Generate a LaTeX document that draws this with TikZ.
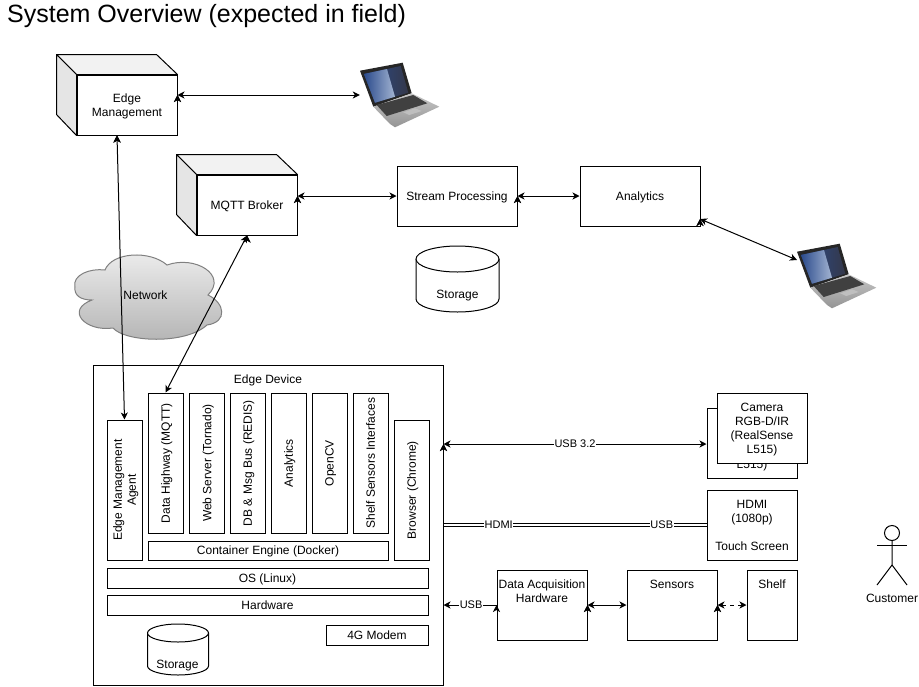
\documentclass[tikz,border=0pt]{standalone}
\usepackage{fontspec}
\setmainfont{Liberation Sans}
\usepackage{tikz}
\usetikzlibrary{arrows.meta}

\definecolor{screenlow}{HTML}{2B4B8C}
\definecolor{screenhigh}{HTML}{34384A}
\definecolor{screenglare}{HTML}{A3B4D2}

\tikzset{
    box/.style = {draw, fill = white, line width = 1pt, align = center, inner sep = 0pt, text depth = 0pt, font = \fontsize{12}{14}\selectfont},
    vbox/.style = {box, rotate = 90, minimum height = 35pt},
    toptext/.style = {label = {[anchor = north, align = center, inner sep = 5pt, yshift = -5pt, font = \fontsize{12}{14}\selectfont]north:#1}},
    plain/.style = {align = center, inner sep = 0pt, text depth = 0pt, font = \fontsize{12}{14}\selectfont},
    canline/.style = {draw, fill = white, line width = 1pt},
    faceside/.style = {draw, fill = black!10, line width = 1pt, line join = round},
    facetop/.style = {draw, fill = black!5, line width = 1pt, line join = round},
    link/.style = {line width = 1pt, {Stealth[length = 7pt, width = 7pt, inset = 2pt]}-{Stealth[length = 7pt, width = 7pt, inset = 2pt]}},
    tolink/.style = {line width = 1pt, -{Stealth[length = 7pt, width = 7pt, inset = 2pt]}},
    cable/.style = {draw, double, double distance = 2pt, line width = 1pt},
    tag/.style = {fill = white, inner sep = 0.5pt, font = \fontsize{11}{13}\selectfont},
    laptop/.pic = {
        % lid, base and keyboard, corner at top left of the lid
        \fill [black!85] (0, 8.7) -- (42.7, 0.7) -- (51.7, 31.3) -- (13.3, 44.7) -- cycle;
        \shade [left color = screenlow, right color = screenhigh] (4, 12) -- (40.7, 4) -- (48.3, 30.7) -- (15, 40.7) -- cycle;
        \shade [left color = screenlow, right color = screenglare] (4, 12) -- (27, 7) -- (35, 34.7) -- (15, 40.7) -- cycle;
        \shade [top color = black!22, bottom color = black!42] (13.3, 44.7) -- (51.7, 31.3) -- (79.3, 44.7) -- (35, 65.3) -- (30, 62) -- cycle;
        \fill [black!75] (16.7, 43) -- (53.3, 33) -- (67.3, 41.3) -- (26.7, 54) -- cycle;
        \fill [black!25] (43.3, 50.3) -- (55, 46.3) -- (61.7, 49) -- (49.3, 53) -- cycle;
    },
}

\begin{document}
\begin{tikzpicture}[x = 1pt, y = -1pt]
            \useasboundingbox (0, 0) rectangle (919, 686);
            \node (title) at (7, 16) [anchor = west, inner sep = 0pt, font = \fontsize{25}{29}\selectfont] {System Overview (expected in field)};

            % upper part
            \node (edgemgmt) at (127, 105) [box, minimum width = 100pt, minimum height = 60pt] {Edge\\Management};
            \draw [facetop] (edgemgmt.north west) -- ++(-20, -20) -- ++(100, 0) -- (edgemgmt.north east) -- cycle;
            \draw [faceside] (edgemgmt.north west) -- ++(-20, -20) -- ++(0, 60) -- (edgemgmt.south west) -- cycle;
            \node (mqtt) at (247, 205) [box, minimum width = 100pt, minimum height = 60pt] {MQTT Broker};
            \draw [facetop] (mqtt.north west) -- ++(-20, -20) -- ++(100, 0) -- (mqtt.north east) -- cycle;
            \draw [faceside] (mqtt.north west) -- ++(-20, -20) -- ++(0, 60) -- (mqtt.south west) -- cycle;
            \node (stream) at (457, 196) [box, minimum width = 120pt, minimum height = 60pt] {Stream Processing};
            \node (analytics) at (640, 196) [box, minimum width = 120pt, minimum height = 60pt] {Analytics};
            \draw [canline] (416, 259) arc [start angle = 180, end angle = 0, x radius = 41.5pt, y radius = 13pt] -- (499, 299) arc [start angle = 0, end angle = -180, x radius = 41.5pt, y radius = 13pt] -- cycle;
            \draw [canline] (416, 259) arc [start angle = 180, end angle = 360, x radius = 41.5pt, y radius = 13pt];
            \node (storage) at (457.5, 294) [plain] {Storage};
            \pic at (360, 62) {laptop};
            \node (laptopa) at (400, 95) [minimum width = 80pt, minimum height = 66pt] {};
            \pic at (797, 243) {laptop};
            \coordinate (laptopb) at (797, 260);
            \coordinate (analyticsport) at (700, 219);

            % network cloud
            \draw [line width = 1pt, draw = black!50, top color = black!7, bottom color = black!30]
                (75, 287) .. controls (72, 275) and (90, 268) .. (105, 270)
                .. controls (112, 252) and (150, 250) .. (167, 265)
                .. controls (195, 255) and (228, 275) .. (208, 295)
                .. controls (225, 303) and (228, 322) .. (207, 325)
                .. controls (185, 345) and (125, 342) .. (113, 328)
                .. controls (85, 332) and (65, 310) .. (92, 300)
                .. controls (80, 300) and (74, 295) .. (75, 287) -- cycle;
            \node (network) at (145.5, 295.5) [plain] {Network};

            % edge device
            \node (device) at (268, 525) [box, minimum width = 350pt, minimum height = 320pt, toptext = Edge Device] {};
            \node (agent) at (124.5, 490) [vbox, minimum width = 140pt] {Edge Management\\Agent};
            \node (highway) at (165.5, 463) [vbox, minimum width = 140pt] {Data Highway (MQTT)};
            \node (webserver) at (207, 463) [vbox, minimum width = 140pt] {Web Server (Tornado)};
            \node (dbbus) at (247.5, 463) [vbox, minimum width = 140pt] {DB \& Msg Bus (REDIS)};
            \node (devanalytics) at (288.5, 463) [vbox, minimum width = 140pt] {Analytics};
            \node (opencv) at (329.5, 463) [vbox, minimum width = 140pt] {OpenCV};
            \node (shelfif) at (370.5, 463) [vbox, minimum width = 140pt] {Shelf Sensors Interfaces};
            \node (browser) at (411.5, 490) [vbox, minimum width = 140pt] {Browser (Chrome)};
            \node (engine) at (268, 550.5) [box, minimum width = 240pt, minimum height = 19pt] {Container Engine (Docker)};
            \node (os) at (267.5, 578) [box, minimum width = 321pt, minimum height = 20pt] {OS (Linux)};
            \node (hardware) at (267.5, 605) [box, minimum width = 321pt, minimum height = 20pt] {Hardware};
            \node (modem) at (377, 635) [box, minimum width = 102pt, minimum height = 20pt] {4G Modem};
            \draw [canline] (147.5, 633) arc [start angle = 180, end angle = 0, x radius = 30.5pt, y radius = 9pt] -- (208.5, 666) arc [start angle = 0, end angle = -180, x radius = 30.5pt, y radius = 9pt] -- cycle;
            \draw [canline] (147.5, 633) arc [start angle = 180, end angle = 360, x radius = 30.5pt, y radius = 9pt];
            \node (devstorage) at (177.5, 664) [plain] {Storage};

            % peripherals
            \node (camback) at (752, 443) [box, minimum width = 90pt, minimum height = 70pt] {Camera\\RGB-D/IR\\(RealSense\\L515)};
            \node (camera) at (762, 428) [box, minimum width = 90pt, minimum height = 70pt] {Camera\\RGB-D/IR\\(RealSense\\L515)};
            \node (screen) at (752, 525) [box, minimum width = 90pt, minimum height = 70pt] {HDMI\\(1080p)\\ \\Touch Screen};
            \node (daq) at (542, 605) [box, minimum width = 90pt, minimum height = 70pt, toptext = {Data Acquisition\\Hardware}] {};
            \node (sensors) at (672, 605) [box, minimum width = 90pt, minimum height = 70pt, toptext = Sensors] {};
            \node (shelf) at (772, 605) [box, minimum width = 50pt, minimum height = 70pt, toptext = Shelf] {};

            % customer
            \node (head) at (892, 533) [circle, draw, line width = 1pt, minimum size = 15pt, inner sep = 0pt] {};
            \coordinate (hip) at (892, 565);
            \draw [line width = 1pt] (head) -- (hip) -- (877, 585);
            \draw [line width = 1pt] (hip) -- (907, 585);
            \draw [line width = 1pt] (877, 545) -- (907, 545);
            \node (customer) at (892, 598) [plain] {Customer};

            % connectors
            \draw [link] ([xshift = -10pt]edgemgmt.south) edge (agent.east);
            \draw [link] (mqtt.south) edge (highway.east);
            \draw [link] ([yshift = 10pt]edgemgmt.east) edge (laptopa.west);
            \draw [link] ([yshift = 9pt]mqtt.east) edge (stream.west);
            \draw [link] (stream.east) edge (analytics.west);
            \draw [link] (analyticsport) edge (laptopb);
            \draw [link] ([yshift = 81pt]device.east) edge node (usbcam) [tag, pos = 0.5] {USB 3.2} ([yshift = -1pt]camback.west);
            \path (device.east) edge [cable] node (hdmitag) [tag, pos = 0.21] {HDMI} node (usbtag) [tag, pos = 0.83] {USB} (screen.west);
            \draw [tolink] (daq.west) edge node (daqtag) [tag, pos = 0.48] {USB} ([yshift = -80pt]device.east);
            \draw [link] (daq.east) edge (sensors.west);
            \draw [link, dashed, dash pattern = on 4pt off 4pt] (sensors.east) edge (shelf.west);
        \end{tikzpicture}
\end{document}
